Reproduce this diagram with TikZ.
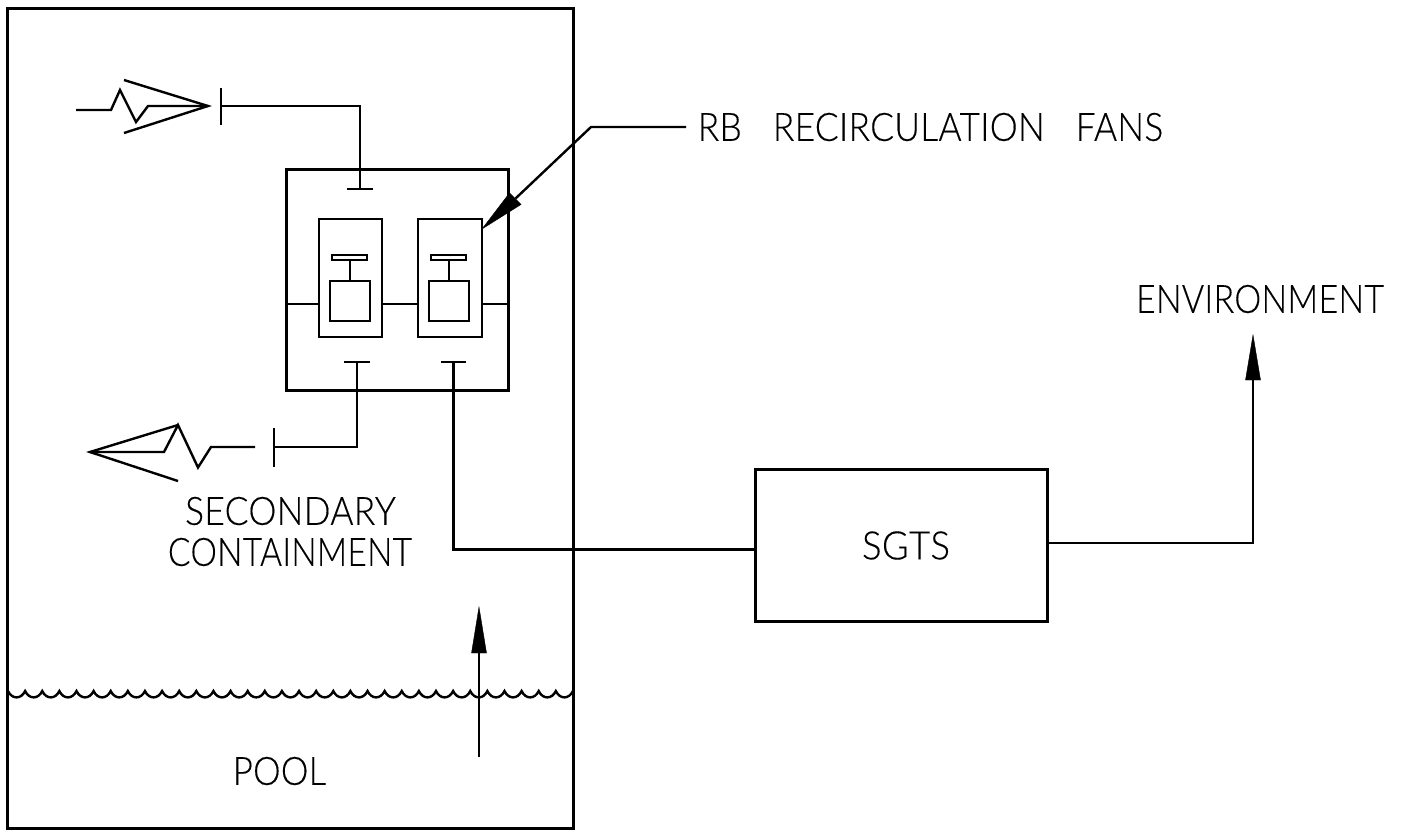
\documentclass[tikz,border=0pt]{standalone}
\usepackage{fontspec}
\usepackage{graphicx}
\setmainfont{Lato Light}[LetterSpace=1,FakeBold=0.3]
\newcommand{\fittext}[2]{\resizebox{#1pt}{21pt}{#2}}
\begin{document}
\begin{tikzpicture}[x=0.75pt,y=-0.75pt,line join=miter,
  heavy/.style={line width=2.25pt},
  duct/.style={line width=2pt},
  med/.style={line width=1.8pt},
  thin2/.style={line width=1.5pt},
  boxn/.style={draw,rectangle,inner sep=0pt,outer sep=0pt},
  lbl/.style={inner sep=0pt,font=\fontsize{29}{33}\selectfont,align=center},
  tip/.style={fill=black,draw=black,line width=0.3pt,line join=miter}]
\useasboundingbox (0,0) rectangle (1405,829);
% enclosures
\node[boxn,heavy,minimum width=424.5pt,minimum height=615pt] (sc) at (290.6,418) {};
\node[boxn,heavy,minimum width=166.5pt,minimum height=165.75pt] (hvac) at (397.6,280.2) {};
\node[boxn,heavy,minimum width=219pt,minimum height=114pt] (sgts) at (901.6,545) {};
% fan boxes
\node[boxn,med,minimum width=47.25pt,minimum height=88.5pt] (f1) at (350.5,278) {};
\node[boxn,med,minimum width=48pt,minimum height=88.5pt] (f2) at (450,278) {};
\node[boxn,med,minimum width=30pt,minimum height=30pt] (m1) at (350,301) {};
\node[boxn,med,minimum width=30pt,minimum height=30pt] (m2) at (449,301) {};
\node[boxn,med,minimum width=26.25pt,minimum height=3.75pt] (b1) at (349.5,257.5) {};
\node[boxn,med,minimum width=26.25pt,minimum height=3.75pt] (b2) at (448.5,257.5) {};
\draw[med] (b1.south -| m1.north) -- (m1.north);
\draw[med] (b2.south -| m2.north) -- (m2.north);
% ducts between fan boxes
\coordinate (hl) at (287,304); \coordinate (hr) at (509,304);
\draw[thin2] (hl) -- (hl -| f1.west);
\draw[thin2] (hl -| f1.east) -- (hl -| f2.west);
\draw[thin2] (hl -| f2.east) -- (hr);
% top supply
\coordinate (t1) at (360,189);
\coordinate (t1a) at (347,189); \coordinate (t1b) at (373,189);
\coordinate (tb) at (221,106);
\coordinate (tb1) at (221,88); \coordinate (tb2) at (221,125);
\draw[med] (tb) -- (tb -| t1) -- (t1);
\draw[med] (t1a) -- (t1b);
\draw[med] (tb1) -- (tb2);
\coordinate (a1) at (208,106);
\draw[med] (76,110) -- (111,110) -- (120,90) -- (136,122) -- (148,106) -- (a1);
\draw[med] (124,80) -- (a1) -- (124,133);
% bottom return
\coordinate (t2) at (357,362); \coordinate (t2a) at (344,362); \coordinate (t2b) at (370,362);
\coordinate (lb) at (274,447); \coordinate (lb1) at (274,428); \coordinate (lb2) at (274,467);
\draw[duct] (t2) -- (t2 |- lb) -- (lb);
\draw[med] (t2a) -- (t2b);
\draw[duct] (lb1) -- (lb2);
\coordinate (a2) at (90,452); \coordinate (k) at (178,425);
\draw[med] (255,447) -- (211,447) -- (198,467.5) -- (k) -- (164,452) -- (a2);
\draw[med] (k) -- (a2) -- (178,481);
% SGTS
\coordinate (t3) at (453.6,362); \coordinate (t3a) at (441,362); \coordinate (t3b) at (466,362);
\coordinate (in) at (sgts.west |- 0,549);
\draw[heavy] (t3) -- (t3 |- in) -- (in);
\draw[med] (t3a) -- (t3b);
% SGTS to environment
\coordinate (out) at (sgts.east |- 0,543);
\coordinate (env) at (1253,380);
\draw[med] (out) -- (out -| env) -- (env);
\fill[tip] (1253,335) -- (1260.5,380) -- (1245.5,380) -- cycle;
% pool rise arrow
\coordinate (pa) at (479,653);
\draw[med] (479,757) -- (pa);
\fill[tip] (479,607) -- (486.5,653) -- (471.5,653) -- cycle;
% leader
\coordinate (lf) at (515.5,198.5);
\draw[med] (686,127) -- (591,127) -- (lf);
\fill[tip] (482,229) -- (509.5,193) -- (521,204.5) -- cycle;
% water surface
\draw[med] (8,691)
  \foreach \k in {1,...,33} { .. controls ({8+(\k-1)*17.12+4},{699.5}) and ({8+\k*17.12-4},{699.5}) .. ({8+\k*17.12},691) };
% labels
\node[lbl] (lrb) at (930.5,127) {\fittext{349}{RB\hspace{0.6em} RECIRCULATION\hspace{0.6em} FANS}};
\node[lbl] (lenv) at (1260,299) {\fittext{186}{ENVIRONMENT}};
\node[lbl] (lsc1) at (290.5,511) {\fittext{158}{SECONDARY}};
\node[lbl] (lsc2) at (290,552) {\fittext{183}{CONTAINMENT}};
\node[lbl] (lsg) at (906,545.5) {\fittext{66}{SGTS}};
\node[lbl] (lpo) at (279.5,771) {\fittext{70}{POOL}};
\end{tikzpicture}
\end{document}
